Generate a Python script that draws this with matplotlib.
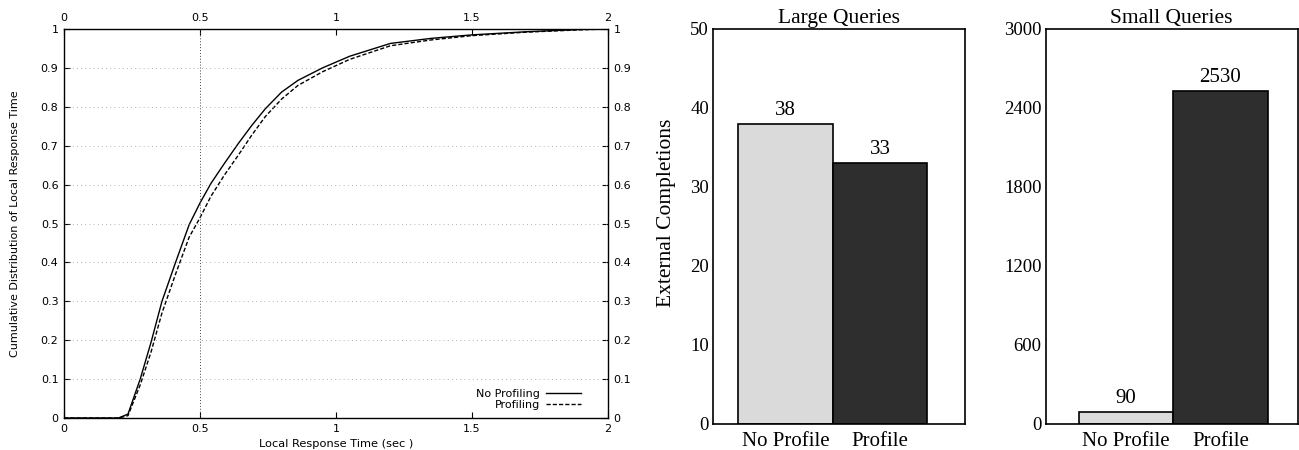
import matplotlib.pyplot as plt
import numpy as np

# CDF of local response time
tempi = [0.0, 0.20, 0.235, 0.28, 0.32, 0.36, 0.41, 0.46, 0.50, 0.54, 0.59, 0.64, 0.69,
         0.74, 0.80, 0.86, 0.95, 1.05, 1.20, 1.35, 1.50, 1.70, 1.90, 2.00]
no_profiling = [0.0, 0.0, 0.01, 0.10, 0.195, 0.30, 0.40, 0.497, 0.553, 0.603, 0.655, 0.705,
                0.752, 0.795, 0.838, 0.868, 0.90, 0.93, 0.963, 0.976, 0.985, 0.993, 0.999, 1.0]
profiling = [0.0, 0.0, 0.006, 0.085, 0.17, 0.27, 0.37, 0.465, 0.515, 0.57, 0.625, 0.675,
             0.727, 0.775, 0.82, 0.855, 0.89, 0.922, 0.957, 0.972, 0.983, 0.992, 0.998, 1.0]

# Completions per query class
categorie = ["No Profile", "Profile"]
large_queries = [38, 33]
small_queries = [90, 2530]
colori_barre = ["#dadada", "#2e2e2e"]

fig = plt.figure(figsize=(12.99, 4.5), dpi=100)

# Grafico CDF
ax = fig.add_axes([0.0493, 0.0711, 0.4188, 0.8644])
ax.plot(tempi, no_profiling, color="black", linewidth=1.0, label="No Profiling")
ax.plot(tempi, profiling, color="black", linewidth=1.0, linestyle=(0, (3, 1.5)), label="Profiling")
ax.set_xlim(0, 2)
ax.set_ylim(0, 1)
ax.set_xticks([0, 0.5, 1, 1.5, 2])
ax.set_xticklabels(["0", "0.5", "1", "1.5", "2"])
ax.set_yticks(np.arange(0, 1.01, 0.1))
ax.set_yticklabels(["0", "0.1", "0.2", "0.3", "0.4", "0.5", "0.6", "0.7", "0.8", "0.9", "1"])
ax.tick_params(direction="in", top=True, right=True, labeltop=True, labelright=True,
               labelsize=8, length=4, width=0.8, pad=4)
for y in np.arange(0.1, 1.0, 0.1):
    ax.axhline(y, color="#999999", linewidth=0.6, linestyle=(0, (1, 4)))
ax.axvline(0.5, color="#444444", linewidth=0.7, linestyle=(0, (1, 2)))
ax.set_xlabel("Local Response Time (sec )", fontsize=8.2, labelpad=4)
ax.set_ylabel("Cumulative Distribution of Local Response Time", fontsize=8, labelpad=15)
ax.legend(loc="lower right", bbox_to_anchor=(0.965, 0.0), frameon=False, fontsize=8,
          markerfirst=False, handlelength=3.2, borderaxespad=0.3, labelspacing=0.1,
          handletextpad=0.5)
for s in ax.spines.values():
    s.set_linewidth(1.0)

serif = ["Liberation Serif", "DejaVu Serif"]

def pannello_barre(rect, valori, titolo, ylim, yticks, xlim, ylabel=None):
    axb = fig.add_axes(rect)
    pos = np.arange(1, len(valori) + 1)
    axb.bar(pos, valori, width=1.0, color=colori_barre, edgecolor="black", linewidth=1.2)
    for p, v in zip(pos, valori):
        axb.text(p, v + ylim * 0.01, str(v), ha="center", va="bottom", fontsize=15, family=serif)
    axb.set_xlim(*xlim)
    axb.set_ylim(0, ylim)
    axb.set_yticks(yticks)
    axb.set_xticks(pos)
    axb.set_xticklabels(categorie, fontsize=15, family=serif)
    for lab in axb.get_yticklabels():
        lab.set_family(serif)
        lab.set_fontsize(13.5)
    axb.tick_params(axis="y", length=0, pad=3)
    axb.tick_params(axis="x", length=0, pad=6)
    axb.set_title(titolo, fontsize=15.5, family=serif, pad=4)
    if ylabel:
        axb.set_ylabel(ylabel, fontsize=15.5, family=serif)
        axb.yaxis.set_label_coords(-0.147, 0.535)
    for s in axb.spines.values():
        s.set_linewidth(1.2)
    return axb

pannello_barre([0.549, 0.0578, 0.194, 0.8778], large_queries, "Large Queries",
               50, [0, 10, 20, 30, 40, 50], (0.234, 2.90), "External Completions")
pannello_barre([0.805, 0.0578, 0.194, 0.8778], small_queries, "Small Queries",
               3000, [0, 600, 1200, 1800, 2400, 3000], (0.149, 2.82))

fig.savefig("out.png", dpi=100)
